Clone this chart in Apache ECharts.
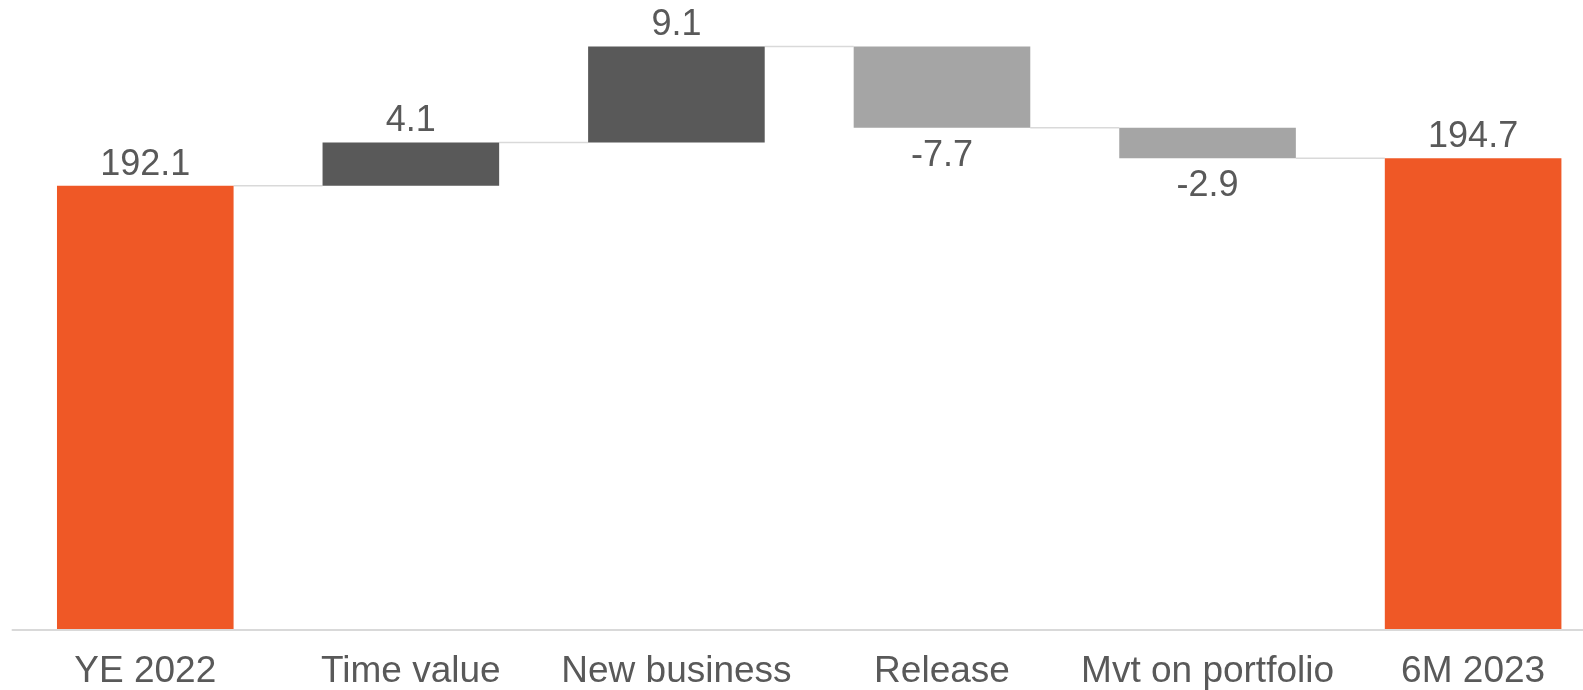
<!DOCTYPE html>
<html>
<head>
<meta charset="utf-8">
<script src="https://cdn.jsdelivr.net/npm/echarts@6/dist/echarts.min.js"></script>
<style>
html,body{margin:0;padding:0;background:#fff;}
#chart{width:1583px;height:690px;}
</style>
</head>
<body>
<div id="chart"></div>
<script>
// ---- data ----
var categories = ['YE 2022', 'Time value', 'New business', 'Release', 'Mvt on portfolio', '6M 2023'];
var changes = [192.1, 4.1, 9.1, -7.7, -2.9, 194.7];
var isTotal = [true, false, false, false, false, true];
var barColors = ['#EF5826', '#595959', '#595959', '#A5A5A5', '#A5A5A5', '#EF5826'];

// ---- derived waterfall stacks ----
var baseData = [], visData = [], connectors = [];
var level = 0;
for (var i = 0; i < changes.length; i++) {
  var v = changes[i];
  if (isTotal[i]) {
    baseData.push(0);
    visData.push(v);
    level = v;
  } else {
    var start = level, end = level + v;
    baseData.push(Math.min(start, end));
    visData.push(Math.abs(v));
    level = end;
  }
  if (i < changes.length - 1) connectors.push([i, level]);
}

var BAR_FRAC = 0.665;
var chart = echarts.init(document.getElementById('chart'));
var FONT = 'Liberation Sans, Arial, sans-serif';

chart.setOption({
  animation: false,
  grid: { left: 12.5, width: 1593.4, top: 0, bottom: 60, outerBoundsMode: 'none', containLabel: false },
  xAxis: {
    type: 'category',
    data: categories,
    z: 10,
    axisLine: { show: true, lineStyle: { color: '#D9D9D9', width: 2 } },
    axisTick: { show: false },
    axisLabel: { color: '#595959', fontSize: 37, fontFamily: FONT, margin: 23, interval: 0, hideOverlap: false }
  },
  yAxis: {
    type: 'value',
    min: 150,
    max: 209.7,
    show: false,
    splitLine: { show: false }
  },
  series: [
    {
      type: 'custom',
      z: 1,
      renderItem: function (params, api) {
        var p = api.coord([api.value(0), api.value(1)]);
        var band = api.size([1, 0])[0];
        var hb = band * BAR_FRAC / 2;
        return {
          type: 'line',
          shape: { x1: p[0] + hb, y1: p[1], x2: p[0] + band - hb, y2: p[1] },
          style: { stroke: '#D9D9D9', lineWidth: 1.5 }
        };
      },
      data: connectors
    },
    {
      type: 'bar',
      stack: 'wf',
      barWidth: (BAR_FRAC * 100) + '%',
      itemStyle: { color: 'transparent' },
      data: baseData,
      silent: true
    },
    {
      type: 'bar',
      stack: 'wf',
      barWidth: (BAR_FRAC * 100) + '%',
      data: visData.map(function (v, i) {
        var neg = changes[i] < 0;
        return {
          value: v,
          itemStyle: { color: barColors[i] },
          label: {
            show: true,
            position: neg ? 'bottom' : 'top',
            distance: neg ? 10 : 3,
            formatter: changes[i].toFixed(1),
            color: '#595959',
            fontSize: 36,
            fontFamily: FONT
          }
        };
      })
    }
  ]
});
</script>
</body>
</html>
